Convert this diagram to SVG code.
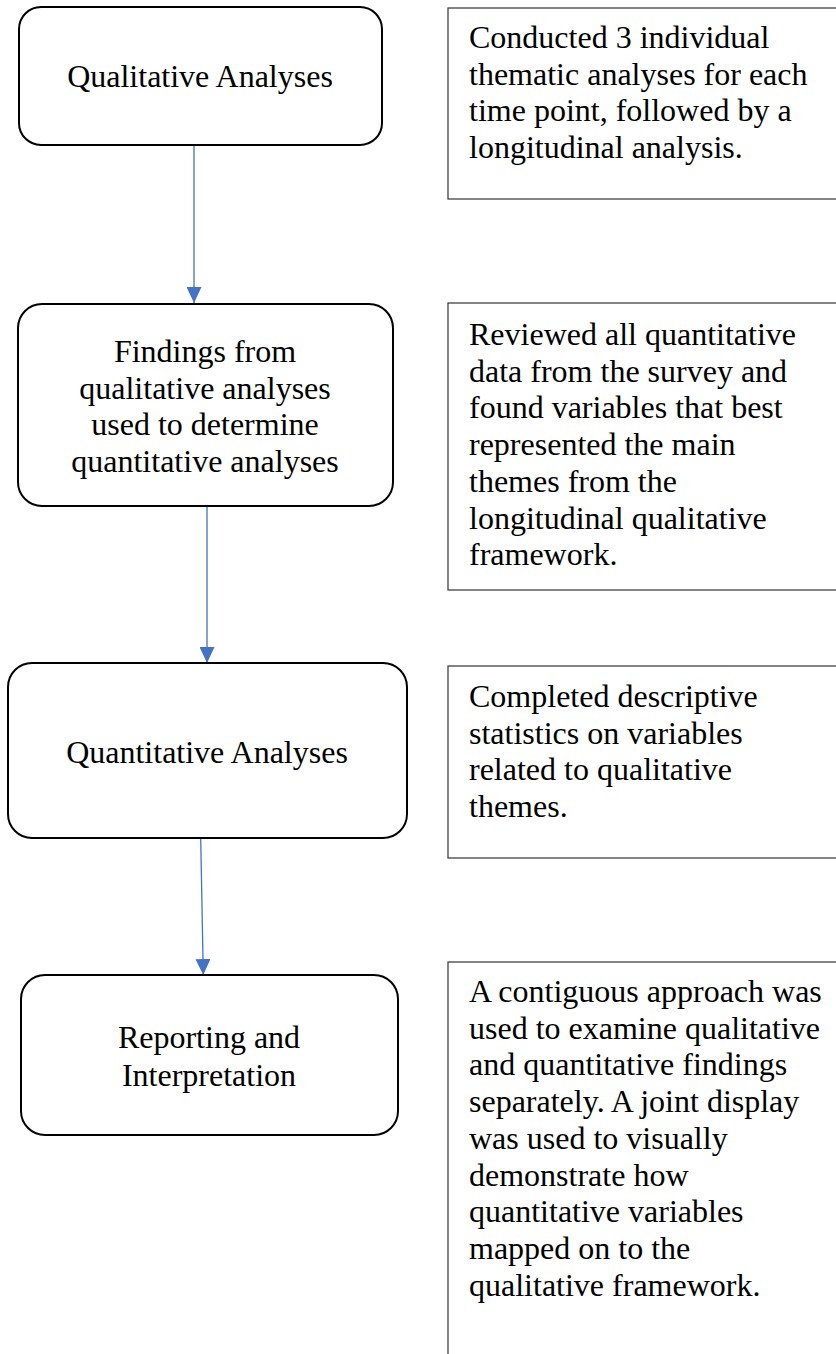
<svg xmlns="http://www.w3.org/2000/svg" width="836" height="1354" viewBox="0 0 836 1354">
<defs>
<style>
.step{fill:#fff;stroke:#000;stroke-width:2}
.note{fill:#fff;stroke:#333;stroke-width:1.2}
.t{font-family:"Liberation Serif","Times New Roman",serif;font-size:32px;fill:#000}
.c{text-anchor:middle}
.conn{stroke:#4472C4;stroke-width:1.3;fill:none}
</style>
<marker id="arr" viewBox="0 0 16 15" refX="16" refY="7.5" markerWidth="16" markerHeight="15" markerUnits="userSpaceOnUse" orient="auto">
<path d="M0,0 L16,7.5 L0,15 Z" fill="#4472C4"/>
</marker>
</defs>
<rect width="836" height="1354" fill="#fff"/>
<g id="connectors">
<line class="conn" x1="194" y1="145" x2="194" y2="303" marker-end="url(#arr)"/>
<line class="conn" x1="207" y1="506" x2="207" y2="663" marker-end="url(#arr)"/>
<line class="conn" x1="200.7" y1="838" x2="203.3" y2="975" marker-end="url(#arr)"/>
</g>
<g id="step1">
<rect class="step" x="19" y="7" width="363" height="138" rx="22"/>
<text class="t c" x="200" y="87">Qualitative Analyses</text>
</g>
<g id="note1">
<rect class="note" x="448" y="8" width="400" height="191"/>
<text class="t" x="469" y="48">Conducted 3 individual</text>
<text class="t" x="469" y="84.7">thematic analyses for each</text>
<text class="t" x="469" y="121.4">time point, followed by a</text>
<text class="t" x="469" y="158.1">longitudinal analysis.</text>
</g>
<g id="step2">
<rect class="step" x="18" y="304" width="375" height="202" rx="24"/>
<text class="t c" x="205" y="362">Findings from</text>
<text class="t c" x="205" y="398.7">qualitative analyses</text>
<text class="t c" x="205" y="435.4">used to determine</text>
<text class="t c" x="205" y="472.1">quantitative analyses</text>
</g>
<g id="note2">
<rect class="note" x="448" y="303" width="400" height="287"/>
<text class="t" x="469" y="345">Reviewed all quantitative</text>
<text class="t" x="469" y="381.7">data from the survey and</text>
<text class="t" x="469" y="418.4">found variables that best</text>
<text class="t" x="469" y="455.1">represented the main</text>
<text class="t" x="469" y="491.8">themes from the</text>
<text class="t" x="469" y="528.5">longitudinal qualitative</text>
<text class="t" x="469" y="565.2">framework.</text>
</g>
<g id="step3">
<rect class="step" x="8" y="663" width="399" height="175" rx="24"/>
<text class="t c" x="207" y="763">Quantitative Analyses</text>
</g>
<g id="note3">
<rect class="note" x="448" y="666" width="400" height="192"/>
<text class="t" x="469" y="707">Completed descriptive</text>
<text class="t" x="469" y="743.7">statistics on variables</text>
<text class="t" x="469" y="780.4">related to qualitative</text>
<text class="t" x="469" y="817.1">themes.</text>
</g>
<g id="step4">
<rect class="step" x="21" y="975" width="377" height="160" rx="24"/>
<text class="t c" x="209" y="1048">Reporting and</text>
<text class="t c" x="209" y="1086">Interpretation</text>
</g>
<g id="note4">
<rect class="note" x="448" y="962" width="400" height="420"/>
<text class="t" x="469" y="1002">A contiguous approach was</text>
<text class="t" x="469" y="1038.7">used to examine qualitative</text>
<text class="t" x="469" y="1075.4">and quantitative findings</text>
<text class="t" x="469" y="1112.1">separately. A joint display</text>
<text class="t" x="469" y="1148.8">was used to visually</text>
<text class="t" x="469" y="1185.5">demonstrate how</text>
<text class="t" x="469" y="1222.2">quantitative variables</text>
<text class="t" x="469" y="1258.9">mapped on to the</text>
<text class="t" x="469" y="1295.6">qualitative framework.</text>
</g>
</svg>
